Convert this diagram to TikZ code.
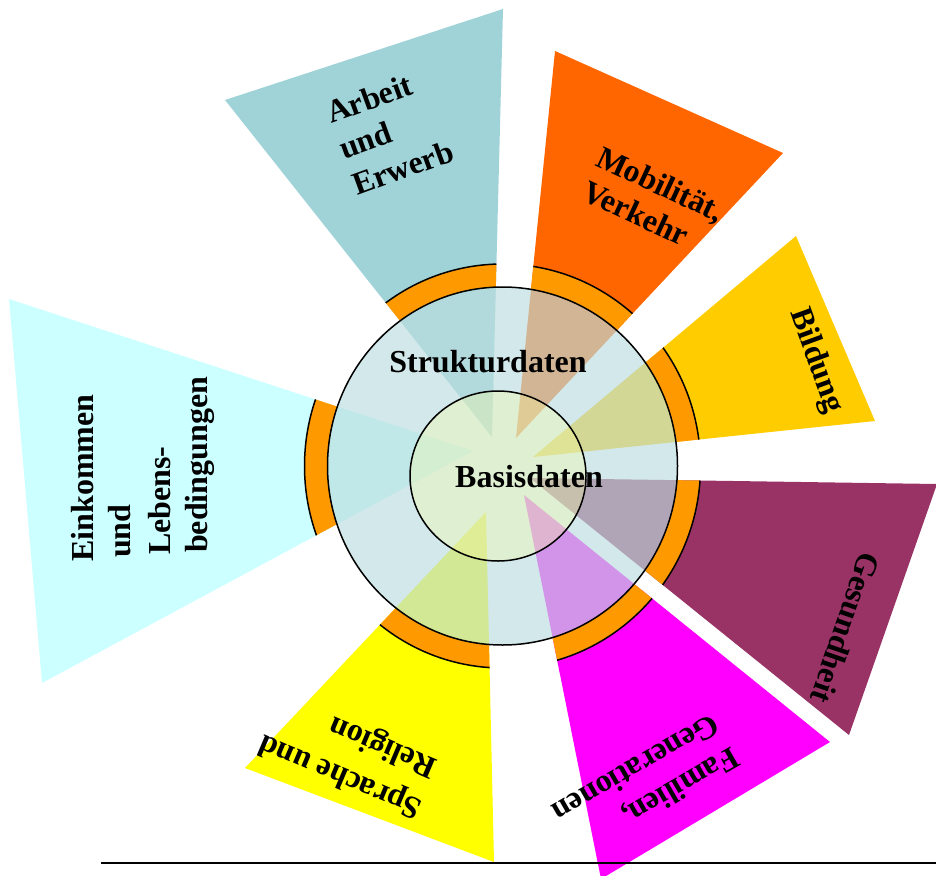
\documentclass[tikz,border=0pt]{standalone}
\usepackage{fontspec}
\setmainfont{Liberation Serif}
\definecolor{cArbeit}{RGB}{159,211,216}
\definecolor{cMob}{RGB}{255,102,0}
\definecolor{cBild}{RGB}{255,204,0}
\definecolor{cGes}{RGB}{153,51,102}
\definecolor{cFam}{RGB}{255,0,255}
\definecolor{cSpr}{RGB}{255,255,0}
\definecolor{cEink}{RGB}{204,255,255}
\definecolor{cRing}{RGB}{255,153,0}
\definecolor{cOuter}{RGB}{188,221,223}
\definecolor{cInner}{RGB}{255,255,153}
\tikzset{
  lbl/.style={font=\fontsize{32}{38}\selectfont\bfseries, inner sep=0pt, anchor=base west},
  ctr/.style={font=\fontsize{32}{38}\selectfont\bfseries, inner sep=0pt, anchor=base},
  ringline/.style={line width=1.5pt, black},
}
\newcommand\wedgering[3]{%
  \begin{scope}
    \clip #1 -- #2 -- #3 -- cycle;
    \fill[cRing, even odd rule] (C) ellipse [x radius=198pt, y radius=202pt]
                                (C) ellipse [x radius=175pt, y radius=179pt];
    \draw[ringline] (C) ellipse [x radius=198pt, y radius=202pt];
  \end{scope}}
\begin{document}
\begin{tikzpicture}[x=1pt,y=-1pt]
\useasboundingbox (0,0) rectangle (936,875);
\clip (0,0) rectangle (936,875);
\coordinate (C) at (502.5,466);
\coordinate (Ci) at (498,476);
% wedges
\fill[cArbeit] (492,437) -- (225,100) -- (503,9) -- cycle;
\fill[cMob]    (516,438) -- (555,51) -- (783,153) -- cycle;
\fill[cBild]   (533,457) -- (796,236) -- (875,421) -- cycle;
\fill[cGes]    (530,478) -- (937,484) -- (849,735) -- cycle;
\fill[cFam]    (524,495) -- (830,742) -- (601,879) -- cycle;
\fill[cSpr]    (486,512) -- (245,768) -- (494,862) -- cycle;
\fill[cEink]   (473,451) -- (9,299) -- (42,683) -- cycle;
% orange ring pieces
\wedgering{(492,437)}{(225,100)}{(503,9)}
\wedgering{(516,438)}{(555,51)}{(783,153)}
\wedgering{(533,457)}{(796,236)}{(875,421)}
\wedgering{(530,478)}{(937,484)}{(849,735)}
\wedgering{(524,495)}{(830,742)}{(601,879)}
\wedgering{(486,512)}{(245,768)}{(494,862)}
\wedgering{(473,451)}{(9,299)}{(42,683)}
% circles
\fill[cOuter, fill opacity=0.67] (C) ellipse [x radius=175pt, y radius=179pt];
\draw[ringline] (C) ellipse [x radius=175pt, y radius=179pt];
\fill[cInner, fill opacity=0.3] (Ci) ellipse [x radius=88pt, y radius=85pt];
\draw[ringline] (Ci) ellipse [x radius=88pt, y radius=85pt];
% center labels
\node[ctr] (struktur) at (488,372) {Strukturdaten};
\node[ctr] (basis) at (529,487) {Basisdaten};
% outer labels
\node[lbl, rotate=20] (arb1) at (331,124) {Arbeit};
\node[lbl, rotate=20] (arb2) at (344,160) {und};
\node[lbl, rotate=20] (arb3) at (357,196) {Erwerb};
\node[lbl, rotate=-25] (mob1) at (594,165) {Mobilität,};
\node[lbl, rotate=-25] (mob2) at (580,199) {Verkehr};
\node[ctr, rotate=-70] (bild) at (808.6,363.4) {Bildung};
\node[ctr, rotate=-109] (ges) at (835.5,624.7) {Gesundheit};
\node[lbl, rotate=210] (fam1) at (732,746) {Familien,};
\node[lbl, rotate=210] (fam2) at (712,713) {Generationen};
\node[lbl, rotate=157] (spr1) at (424,802) {Sprache und};
\node[lbl, rotate=157] (spr2) at (439,761) {Religion};
\node[lbl, rotate=90] (ein1) at (93,562) {Einkommen};
\node[lbl, rotate=90] (ein2) at (130,558) {und};
\node[lbl, rotate=90] (ein3) at (170,555) {Lebens-};
\node[lbl, rotate=90] (ein4) at (207,553) {bedingungen};
% bottom rule
\coordinate (L1) at (101,863);
\coordinate (L2) at (936,863);
\draw[line width=2.3pt] (L1) -- (L2);
\end{tikzpicture}
\end{document}
